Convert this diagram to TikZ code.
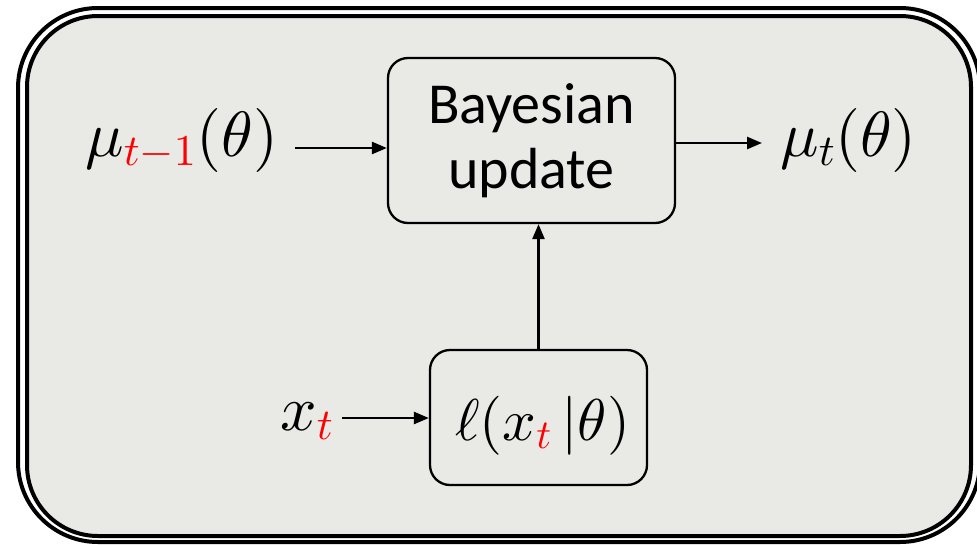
\RequirePackage{fix-cm}
\documentclass[tikz,border=0pt]{standalone}
\usepackage[no-math]{fontspec}
\newfontfamily\calibri{Carlito}
\usetikzlibrary{arrows.meta,calc}
\DeclareFontShape{OML}{cmm}{m}{it}{<->cmmi10}{}
\DeclareFontShape{OT1}{cmr}{m}{n}{<->cmr10}{}
\DeclareFontShape{OMS}{cmsy}{m}{n}{<->cmsy10}{}
\DeclareSymbolFont{operators}{OT1}{cmr}{m}{n}
\DeclareMathSizes{64}{64}{44}{32}
\DeclareMathSizes{59}{59}{41}{30}
\definecolor{paper}{RGB}{233,233,230}
\begin{document}
\begin{tikzpicture}[x=1pt,y=-1pt,
  box/.style={draw, line width=2.3pt, rounded corners=20pt},
  arr/.style={line width=2.5pt, -{Triangle[length=15pt,width=12pt]}},
  big/.style={font=\fontsize{64}{72}\selectfont, inner sep=0pt},
  lkf/.style={font=\fontsize{59}{66}\selectfont, inner sep=0pt}]
\useasboundingbox (0,0) rectangle (977,544);
\begin{scope}
  \clip (0,0) rectangle (977,544);
  \fill[paper, rounded corners=71pt] (27,16) rectangle (971,536);
  \draw[line width=4pt, rounded corners=71pt] (27,16) rectangle (971,536);
  \draw[line width=4pt, rounded corners=80pt] (18,8) rectangle (980,542);
\end{scope}

\node[box, minimum width=287pt, minimum height=165pt,
      font=\calibri\fontsize{58}{65}\selectfont, align=center]
      (bu) at (531.5,140.5) {\raisebox{2pt}{Bayesian}\\\raisebox{2pt}{update}};
\node[box, minimum width=217pt, minimum height=135pt] (lik) at (538.5,417.5) {};
\node[lkf, anchor=base west] (likt) at (455,440) {$\ell(x_{\textcolor{red}{t}}\,|\theta)$};

\node[big, anchor=base west] (mu1) at (85,156) {$\mu_{\textcolor{red}{t-1}}(\theta)$};
\node[big, anchor=base west] (mu2) at (780,156) {$\mu_t(\theta)$};
\node[big, anchor=base west] (xt) at (280,430) {$x_{\textcolor{red}{t}}$};

\coordinate (a1) at ($(mu1.base east)+(17,-8)$);
\draw[arr] (a1) -- (a1 -| bu.west);
\coordinate (a2) at ($(bu.east)+(0,2.5)$);
\coordinate (b2) at ($(mu2.base west)+(-18,0)$);
\draw[arr] (a2) -- (a2 -| b2);
\draw[arr] (lik.north) -- (lik.north |- bu.south);
\coordinate (a3) at ($(xt.base east)+(9,-12)$);
\draw[arr] (a3) -- (a3 -| lik.west);
\end{tikzpicture}
\end{document}
